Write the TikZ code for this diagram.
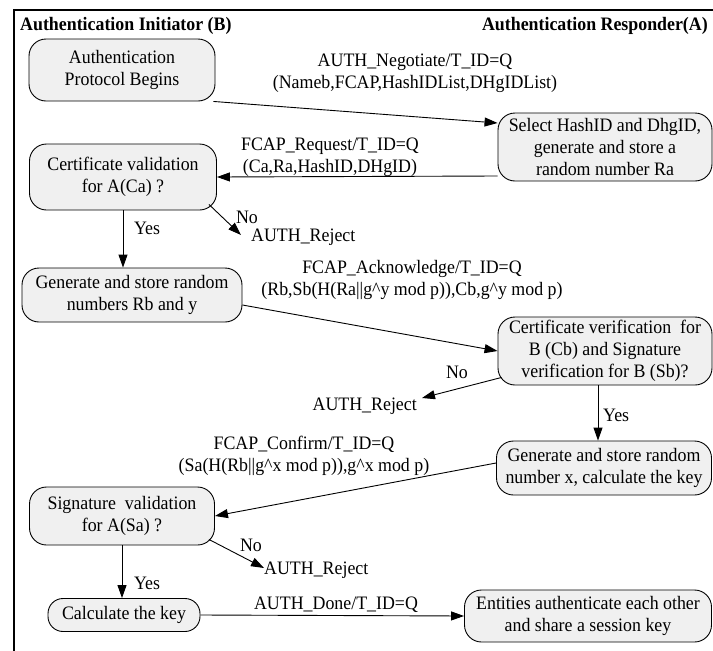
\documentclass[tikz,border=0pt]{standalone}
\usepackage{fontspec}
\setmainfont{Liberation Serif}[FakeStretch=0.94]
\usetikzlibrary{arrows.meta,calc}
\definecolor{boxgray}{HTML}{F0F0F0}
\begin{document}
\begin{tikzpicture}[x=1pt,y=-1pt,
  every node/.style={font=\fontsize{19}{22}\selectfont},
  box/.style={draw, line width=0.9pt, rounded corners=17pt, fill=boxgray, align=center, inner sep=0pt},
  lbl/.style={align=center, inner sep=0pt},
  arr/.style={line width=0.9pt, -{Triangle[length=13pt,width=9pt]}},
  hdr/.style={font=\fontsize{19}{22}\selectfont\bfseries, inner sep=0pt}]
\useasboundingbox (0,0) rectangle (713,651);
\draw[line width=1.2pt] (14,660) -- (14,10) -- (720,10);
% headers
\node[hdr, anchor=west] (h1) at (20,26) {Authentication Initiator (B)};
\node[hdr, anchor=east] (h2) at (708,26) {Authentication Responder(A)};
% boxes
\node[box, minimum width=186pt, minimum height=62pt] (b1) at (122,70) {Authentication\\Protocol Begins};
\node[box, minimum width=214pt, minimum height=68pt] (b2) at (605,147) {Select HashID and DhgID,\\generate and store a\\random number Ra};
\node[box, minimum width=187pt, minimum height=66pt] (b3) at (123,177) {Certificate validation\\for A(Ca) ?};
\node[box, minimum width=220pt, minimum height=54pt] (b4) at (132,295) {Generate and store random\\numbers Rb and y};
\node[box, minimum width=214pt, minimum height=68pt] (b5) at (605,351) {Certificate verification\ \ for\\B (Cb) and Signature\\verification for B (Sb)?};
\node[box, minimum width=215pt, minimum height=54pt] (b6) at (604,468) {Generate and store random\\number x, calculate the key};
\node[box, minimum width=185pt, minimum height=58pt] (b7) at (122,516) {Signature\ \ validation\\for A(Sa) ?};
\node[box, minimum width=152pt, minimum height=33pt, rounded corners=15pt] (b8) at (124,615) {Calculate the key};
\node[box, minimum width=247pt, minimum height=52pt] (b9) at (588,616) {Entities authenticate each other\\and share a session key};
% message labels
\node[lbl] (m1) at (415,73) {AUTH\_Negotiate/T\_ID=Q\\(Nameb,FCAP,HashIDList,DHgIDList)};
\node[lbl] (m2) at (330,157) {FCAP\_Request/T\_ID=Q\\(Ca,Ra,HashID,DHgID)};
\node[lbl] (m3) at (412,280) {FCAP\_Acknowledge/T\_ID=Q\\(Rb,Sb(H(Ra||g\textasciicircum y mod p)),Cb,g\textasciicircum y mod p)};
\node[lbl] (m4) at (304,456) {FCAP\_Confirm/T\_ID=Q\\(Sa(H(Rb||g\textasciicircum x mod p)),g\textasciicircum x mod p)};
\node[lbl] (m5) at (336,605) {AUTH\_Done/T\_ID=Q};
% yes / no / reject
\node[lbl] (n1) at (247,217) {No};
\node[lbl] (y1) at (147,228) {Yes};
\node[lbl, anchor=west] (r1) at (251,237) {AUTH\_Reject};
\node[lbl] (n2) at (457,372) {No};
\node[lbl, anchor=east] (r2) at (417,406) {AUTH\_Reject};
\node[lbl, anchor=west] (y2) at (603,415) {Yes};
\node[lbl] (n3) at (251,545) {No};
\node[lbl, anchor=west] (r3) at (264,570) {AUTH\_Reject};
\node[lbl] (y3) at (147,583) {Yes};
% connectors
\coordinate (c5) at ($(b5.south)+(-7,0)$);
\draw[arr] ($(b1.south east)+(-2,0)$) -- ($(b2.west)+(0,-24)$);
\draw[arr] ($(b2.west)+(0,29)$) -- (b3.east);
\draw[arr] ($(b3.south east)+(-8,-6)$) -- ($(r1.west)+(-10,-2)$);
\draw[arr] (b3.south) -- (b3.south |- b4.north);
\draw[arr] ($(b4.east)+(0,10)$) -- (b5.west);
\draw[arr] ($(b5.south west)+(4,-8)$) -- ($(r2.east)+(5,-8)$);
\draw[arr] (c5) -- (c5 |- b6.north);
\draw[arr] ($(b6.west)+(0,-5)$) -- (b7.east);
\draw[arr] ($(b7.south east)+(-6,-6)$) -- ($(r3.west)+(0,-2)$);
\draw[arr] (b7.south) -- (b7.south |- b8.north);
\draw[arr] (b8.east) -- (b9.west);
\end{tikzpicture}
\end{document}
